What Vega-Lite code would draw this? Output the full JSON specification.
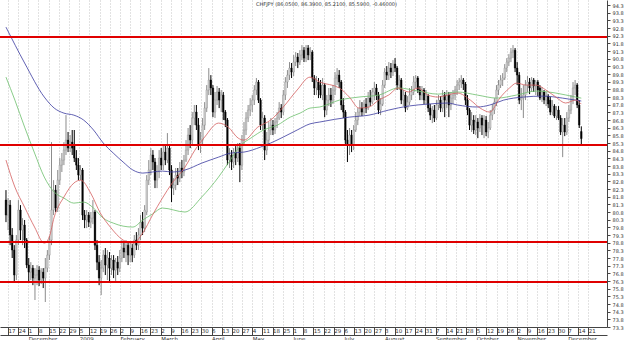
{
"$schema": "https://vega.github.io/schema/vega-lite/v6.json",
"width": 607, "height": 327,
"autosize": {"type": "none"},
"padding": {"left": 0, "top": 0, "right": 18, "bottom": 13},
"background": "white",
"title": {"text": "CHFJPY (86.0500, 86.3900, 85.2100, 85.5900, -0.46000)", "fontSize": 5, "fontWeight": "normal", "color": "#333", "font": "DejaVu Sans", "anchor": "start", "dx": 256, "offset": -7, "frame": "group"},
"config": {"view": {"stroke": null}, "axis": {"labelFont": "DejaVu Sans", "labelOverlap": false, "labelFlush": false, "labelFontSize": 5.5, "labelColor": "#333", "domainColor": "#444", "tickColor": "#444", "title": null}},
"datasets": {
"ohlc": [
{"d":0,"o":81.58,"h":82.23,"l":80.14,"c":80.60},
{"d":1,"o":80.60,"h":81.71,"l":79.62,"c":81.25},
{"d":2,"o":81.25,"h":81.58,"l":78.64,"c":79.30},
{"d":3,"o":79.30,"h":79.75,"l":77.80,"c":78.32},
{"d":4,"o":78.32,"h":78.64,"l":76.23,"c":76.69},
{"d":5,"o":76.69,"h":79.30,"l":76.36,"c":78.97},
{"d":6,"o":78.97,"h":81.58,"l":78.64,"c":80.93},
{"d":7,"o":80.93,"h":81.25,"l":78.97,"c":79.62},
{"d":8,"o":79.62,"h":80.40,"l":78.64,"c":79.95},
{"d":9,"o":79.95,"h":80.28,"l":78.45,"c":78.97},
{"d":10,"o":78.97,"h":79.10,"l":77.14,"c":77.34},
{"d":11,"o":77.34,"h":77.80,"l":76.23,"c":76.88},
{"d":12,"o":76.88,"h":77.53,"l":76.36,"c":77.14},
{"d":13,"o":77.14,"h":77.34,"l":76.03,"c":76.49},
{"d":14,"o":76.49,"h":77.14,"l":75.06,"c":76.69},
{"d":15,"o":76.69,"h":77.34,"l":76.03,"c":77.01},
{"d":16,"o":77.01,"h":77.27,"l":75.97,"c":76.36},
{"d":17,"o":76.36,"h":77.14,"l":76.10,"c":76.88},
{"d":18,"o":76.88,"h":77.14,"l":75.84,"c":76.49},
{"d":19,"o":76.49,"h":77.80,"l":74.93,"c":77.14},
{"d":20,"o":77.14,"h":78.32,"l":76.88,"c":77.99},
{"d":21,"o":77.99,"h":79.23,"l":77.67,"c":78.97},
{"d":22,"o":78.97,"h":85.36,"l":78.64,"c":80.93},
{"d":23,"o":80.93,"h":82.88,"l":80.60,"c":82.23},
{"d":24,"o":82.23,"h":82.56,"l":80.80,"c":81.06},
{"d":25,"o":81.06,"h":83.54,"l":80.80,"c":82.88},
{"d":26,"o":82.88,"h":84.32,"l":82.56,"c":83.86},
{"d":27,"o":83.86,"h":84.65,"l":83.41,"c":84.19},
{"d":28,"o":84.19,"h":85.36,"l":83.86,"c":84.84},
{"d":29,"o":84.84,"h":87.12,"l":84.52,"c":85.49},
{"d":30,"o":85.49,"h":86.02,"l":84.71,"c":84.97},
{"d":31,"o":84.97,"h":85.82,"l":84.71,"c":85.36},
{"d":32,"o":85.36,"h":86.15,"l":84.52,"c":84.97},
{"d":33,"o":85.17,"h":86.15,"l":84.06,"c":84.32},
{"d":34,"o":84.32,"h":84.84,"l":83.54,"c":83.86},
{"d":35,"o":83.86,"h":84.32,"l":82.88,"c":83.21},
{"d":36,"o":83.21,"h":83.86,"l":82.88,"c":83.54},
{"d":37,"o":83.54,"h":83.67,"l":80.28,"c":80.60},
{"d":38,"o":80.60,"h":80.93,"l":79.75,"c":80.28},
{"d":39,"o":80.28,"h":80.93,"l":79.75,"c":80.60},
{"d":40,"o":80.60,"h":80.80,"l":79.82,"c":80.14},
{"d":41,"o":80.14,"h":80.80,"l":79.75,"c":80.40},
{"d":42,"o":80.40,"h":81.58,"l":80.01,"c":80.80},
{"d":43,"o":80.80,"h":80.93,"l":78.32,"c":78.64},
{"d":44,"o":78.64,"h":78.97,"l":77.01,"c":77.53},
{"d":45,"o":77.53,"h":77.99,"l":76.03,"c":76.49},
{"d":46,"o":76.49,"h":77.67,"l":75.38,"c":77.14},
{"d":47,"o":77.14,"h":78.32,"l":76.88,"c":77.99},
{"d":48,"o":77.99,"h":78.45,"l":76.69,"c":77.34},
{"d":49,"o":77.34,"h":78.32,"l":76.36,"c":77.80},
{"d":50,"o":77.80,"h":78.19,"l":76.23,"c":77.14},
{"d":51,"o":77.14,"h":77.99,"l":76.69,"c":77.67},
{"d":52,"o":77.67,"h":77.99,"l":76.49,"c":77.01},
{"d":53,"o":77.01,"h":77.80,"l":76.23,"c":77.53},
{"d":54,"o":77.53,"h":77.93,"l":76.69,"c":77.14},
{"d":55,"o":77.14,"h":78.32,"l":76.88,"c":77.80},
{"d":56,"o":77.80,"h":78.97,"l":77.53,"c":78.45},
{"d":57,"o":78.45,"h":78.84,"l":77.80,"c":78.19},
{"d":58,"o":78.19,"h":78.97,"l":77.53,"c":78.64},
{"d":59,"o":78.64,"h":78.84,"l":77.34,"c":77.99},
{"d":60,"o":77.99,"h":78.84,"l":77.53,"c":78.45},
{"d":61,"o":78.45,"h":78.71,"l":77.53,"c":77.99},
{"d":62,"o":77.99,"h":79.30,"l":77.80,"c":78.97},
{"d":63,"o":78.97,"h":79.49,"l":78.32,"c":78.64},
{"d":64,"o":78.64,"h":79.75,"l":78.32,"c":79.30},
{"d":65,"o":79.30,"h":80.60,"l":78.97,"c":80.14},
{"d":66,"o":80.14,"h":80.80,"l":79.30,"c":79.75},
{"d":67,"o":79.75,"h":81.25,"l":79.49,"c":80.93},
{"d":68,"o":80.80,"h":83.21,"l":80.60,"c":82.88},
{"d":69,"o":82.88,"h":84.19,"l":82.56,"c":83.54},
{"d":70,"o":83.54,"h":84.97,"l":83.21,"c":84.52},
{"d":71,"o":84.52,"h":84.84,"l":83.54,"c":84.06},
{"d":72,"o":84.06,"h":84.32,"l":82.36,"c":82.88},
{"d":73,"o":82.88,"h":83.86,"l":82.36,"c":83.41},
{"d":74,"o":83.41,"h":84.84,"l":83.01,"c":84.32},
{"d":75,"o":84.32,"h":84.97,"l":83.54,"c":83.86},
{"d":76,"o":83.86,"h":85.17,"l":83.54,"c":84.71},
{"d":77,"o":84.71,"h":85.17,"l":83.86,"c":84.19},
{"d":78,"o":84.19,"h":85.95,"l":83.99,"c":84.97},
{"d":79,"o":84.97,"h":85.17,"l":83.21,"c":83.54},
{"d":80,"o":83.54,"h":83.86,"l":81.45,"c":82.36},
{"d":81,"o":82.36,"h":83.01,"l":81.91,"c":82.56},
{"d":82,"o":82.56,"h":83.67,"l":82.23,"c":83.21},
{"d":83,"o":83.21,"h":83.67,"l":82.56,"c":83.01},
{"d":84,"o":83.01,"h":84.06,"l":82.75,"c":83.67},
{"d":85,"o":83.67,"h":84.19,"l":83.01,"c":83.41},
{"d":86,"o":83.41,"h":84.52,"l":83.14,"c":84.19},
{"d":87,"o":84.19,"h":85.49,"l":84.06,"c":84.84},
{"d":88,"o":84.84,"h":86.28,"l":84.52,"c":85.82},
{"d":89,"o":85.82,"h":86.47,"l":84.97,"c":85.49},
{"d":90,"o":85.49,"h":87.32,"l":85.17,"c":86.93},
{"d":91,"o":86.93,"h":87.78,"l":86.47,"c":87.32},
{"d":92,"o":87.32,"h":87.78,"l":86.15,"c":86.47},
{"d":93,"o":86.47,"h":86.93,"l":84.84,"c":85.17},
{"d":94,"o":85.17,"h":86.02,"l":84.65,"c":85.49},
{"d":95,"o":85.49,"h":86.93,"l":85.17,"c":86.47},
{"d":96,"o":86.47,"h":87.97,"l":86.15,"c":87.58},
{"d":97,"o":87.58,"h":89.08,"l":87.32,"c":88.76},
{"d":98,"o":88.76,"h":90.19,"l":88.43,"c":89.41},
{"d":99,"o":89.41,"h":89.73,"l":88.43,"c":88.89},
{"d":100,"o":88.89,"h":89.08,"l":86.99,"c":87.32},
{"d":101,"o":87.32,"h":88.63,"l":86.93,"c":88.10},
{"d":102,"o":88.10,"h":89.02,"l":87.78,"c":88.63},
{"d":103,"o":88.63,"h":88.89,"l":87.58,"c":88.10},
{"d":104,"o":88.10,"h":88.76,"l":87.32,"c":88.43},
{"d":105,"o":88.43,"h":88.63,"l":86.80,"c":87.32},
{"d":106,"o":87.32,"h":87.45,"l":86.34,"c":86.80},
{"d":107,"o":86.80,"h":86.93,"l":83.86,"c":84.19},
{"d":108,"o":84.19,"h":84.97,"l":83.67,"c":84.52},
{"d":109,"o":84.52,"h":84.84,"l":83.54,"c":84.06},
{"d":110,"o":84.06,"h":84.97,"l":83.67,"c":84.71},
{"d":111,"o":84.71,"h":85.10,"l":83.86,"c":84.32},
{"d":112,"o":84.32,"h":85.30,"l":84.06,"c":84.97},
{"d":113,"o":84.97,"h":85.30,"l":82.75,"c":83.86},
{"d":114,"o":83.86,"h":85.82,"l":83.54,"c":85.49},
{"d":115,"o":85.49,"h":86.67,"l":85.17,"c":86.15},
{"d":116,"o":86.15,"h":87.32,"l":85.82,"c":86.93},
{"d":117,"o":86.93,"h":87.78,"l":86.67,"c":87.45},
{"d":118,"o":87.45,"h":88.23,"l":87.06,"c":87.78},
{"d":119,"o":87.78,"h":88.43,"l":87.32,"c":88.10},
{"d":120,"o":88.10,"h":89.08,"l":87.78,"c":88.76},
{"d":121,"o":88.76,"h":89.54,"l":88.43,"c":89.28},
{"d":122,"o":89.28,"h":89.41,"l":87.91,"c":88.10},
{"d":123,"o":88.10,"h":88.23,"l":86.15,"c":86.47},
{"d":124,"o":86.47,"h":87.32,"l":86.15,"c":86.93},
{"d":125,"o":86.93,"h":87.12,"l":84.19,"c":84.84},
{"d":126,"o":84.84,"h":86.02,"l":84.52,"c":85.49},
{"d":127,"o":85.49,"h":86.67,"l":85.17,"c":86.15},
{"d":128,"o":86.15,"h":86.93,"l":85.82,"c":86.47},
{"d":129,"o":86.47,"h":86.80,"l":85.82,"c":86.15},
{"d":130,"o":86.15,"h":86.93,"l":85.89,"c":86.67},
{"d":131,"o":86.67,"h":87.32,"l":86.28,"c":86.93},
{"d":132,"o":86.93,"h":87.97,"l":86.80,"c":87.58},
{"d":133,"o":87.58,"h":87.84,"l":86.93,"c":87.32},
{"d":134,"o":87.32,"h":88.76,"l":87.12,"c":88.43},
{"d":135,"o":88.43,"h":89.60,"l":88.10,"c":89.28},
{"d":136,"o":89.28,"h":90.06,"l":88.89,"c":89.73},
{"d":137,"o":89.73,"h":90.58,"l":89.41,"c":90.19},
{"d":138,"o":90.19,"h":90.52,"l":89.54,"c":89.93},
{"d":139,"o":89.93,"h":91.04,"l":89.67,"c":90.58},
{"d":140,"o":90.58,"h":91.23,"l":90.32,"c":90.91},
{"d":141,"o":90.91,"h":91.17,"l":90.19,"c":90.58},
{"d":142,"o":90.58,"h":91.36,"l":90.39,"c":91.04},
{"d":143,"o":91.04,"h":91.69,"l":90.71,"c":91.36},
{"d":144,"o":91.36,"h":91.56,"l":90.58,"c":90.84},
{"d":145,"o":90.84,"h":91.69,"l":90.58,"c":91.50},
{"d":146,"o":91.50,"h":91.69,"l":90.71,"c":91.04},
{"d":147,"o":91.04,"h":91.56,"l":90.71,"c":91.23},
{"d":148,"o":91.23,"h":91.36,"l":89.28,"c":89.54},
{"d":149,"o":89.54,"h":89.73,"l":88.43,"c":88.89},
{"d":150,"o":88.89,"h":89.67,"l":88.43,"c":89.28},
{"d":151,"o":89.28,"h":89.54,"l":88.23,"c":88.76},
{"d":152,"o":89.08,"h":89.41,"l":88.23,"c":88.43},
{"d":153,"o":88.43,"h":89.54,"l":88.10,"c":89.08},
{"d":154,"o":89.08,"h":89.21,"l":86.99,"c":87.45},
{"d":155,"o":87.45,"h":88.43,"l":87.12,"c":88.10},
{"d":156,"o":88.10,"h":88.89,"l":87.71,"c":88.43},
{"d":157,"o":88.43,"h":88.89,"l":87.65,"c":88.10},
{"d":158,"o":88.10,"h":89.08,"l":87.84,"c":88.76},
{"d":159,"o":88.76,"h":89.93,"l":88.43,"c":89.54},
{"d":160,"o":89.54,"h":90.19,"l":89.08,"c":89.73},
{"d":161,"o":89.73,"h":90.06,"l":88.89,"c":89.28},
{"d":162,"o":89.28,"h":89.41,"l":87.45,"c":87.78},
{"d":163,"o":87.78,"h":88.23,"l":86.93,"c":87.32},
{"d":164,"o":87.32,"h":87.45,"l":85.17,"c":85.49},
{"d":165,"o":85.49,"h":86.15,"l":84.06,"c":85.17},
{"d":166,"o":85.17,"h":86.28,"l":84.52,"c":85.82},
{"d":167,"o":85.82,"h":86.15,"l":84.71,"c":85.17},
{"d":168,"o":85.17,"h":86.47,"l":84.84,"c":86.15},
{"d":169,"o":86.15,"h":87.32,"l":86.02,"c":86.80},
{"d":170,"o":86.80,"h":87.58,"l":86.47,"c":87.32},
{"d":171,"o":87.32,"h":88.10,"l":87.06,"c":87.58},
{"d":172,"o":87.58,"h":87.97,"l":87.06,"c":87.32},
{"d":173,"o":87.32,"h":88.10,"l":87.12,"c":87.84},
{"d":174,"o":87.84,"h":88.23,"l":87.25,"c":87.58},
{"d":175,"o":87.58,"h":88.63,"l":87.45,"c":88.23},
{"d":176,"o":88.23,"h":88.76,"l":87.71,"c":87.97},
{"d":177,"o":87.97,"h":88.89,"l":87.84,"c":88.63},
{"d":178,"o":88.63,"h":89.28,"l":88.10,"c":88.89},
{"d":179,"o":88.89,"h":89.15,"l":88.10,"c":88.43},
{"d":180,"o":88.43,"h":88.63,"l":87.19,"c":87.45},
{"d":181,"o":87.45,"h":88.23,"l":87.12,"c":87.84},
{"d":182,"o":87.84,"h":89.41,"l":87.71,"c":89.08},
{"d":183,"o":89.08,"h":90.19,"l":88.89,"c":89.93},
{"d":184,"o":89.93,"h":90.32,"l":89.41,"c":89.73},
{"d":185,"o":89.73,"h":90.58,"l":89.41,"c":90.19},
{"d":186,"o":90.19,"h":90.52,"l":89.54,"c":89.93},
{"d":187,"o":89.93,"h":90.71,"l":89.67,"c":90.45},
{"d":188,"o":90.45,"h":90.84,"l":89.93,"c":90.19},
{"d":189,"o":90.19,"h":90.32,"l":88.76,"c":89.08},
{"d":190,"o":89.08,"h":89.73,"l":88.76,"c":89.41},
{"d":191,"o":89.41,"h":89.54,"l":87.84,"c":88.10},
{"d":192,"o":88.10,"h":88.76,"l":87.71,"c":88.43},
{"d":193,"o":88.43,"h":88.63,"l":87.32,"c":87.58},
{"d":194,"o":87.58,"h":88.36,"l":87.45,"c":87.97},
{"d":195,"o":87.97,"h":88.89,"l":87.78,"c":88.43},
{"d":196,"o":88.43,"h":89.02,"l":88.10,"c":88.63},
{"d":197,"o":88.63,"h":89.67,"l":88.43,"c":89.28},
{"d":198,"o":89.28,"h":89.73,"l":88.89,"c":89.54},
{"d":199,"o":89.54,"h":89.67,"l":88.56,"c":88.76},
{"d":200,"o":88.76,"h":89.02,"l":88.10,"c":88.43},
{"d":201,"o":88.43,"h":89.02,"l":88.10,"c":88.76},
{"d":202,"o":88.76,"h":88.89,"l":87.84,"c":88.10},
{"d":203,"o":88.10,"h":88.76,"l":87.84,"c":88.36},
{"d":204,"o":88.36,"h":88.49,"l":87.32,"c":87.58},
{"d":205,"o":87.58,"h":87.84,"l":86.80,"c":87.12},
{"d":206,"o":87.12,"h":87.71,"l":86.60,"c":87.45},
{"d":207,"o":87.45,"h":87.78,"l":86.67,"c":86.93},
{"d":208,"o":86.93,"h":88.10,"l":86.80,"c":87.78},
{"d":209,"o":87.78,"h":88.43,"l":87.45,"c":88.10},
{"d":210,"o":88.10,"h":88.36,"l":87.32,"c":87.58},
{"d":211,"o":87.58,"h":88.76,"l":87.32,"c":88.43},
{"d":212,"o":88.43,"h":88.63,"l":86.99,"c":88.10},
{"d":213,"o":88.10,"h":88.76,"l":87.58,"c":88.43},
{"d":214,"o":88.43,"h":88.63,"l":86.99,"c":87.78},
{"d":215,"o":87.78,"h":88.63,"l":87.45,"c":88.23},
{"d":216,"o":88.23,"h":88.76,"l":87.84,"c":88.43},
{"d":217,"o":88.43,"h":89.02,"l":88.10,"c":88.76},
{"d":218,"o":88.76,"h":89.41,"l":88.43,"c":89.08},
{"d":219,"o":89.08,"h":89.54,"l":88.76,"c":89.28},
{"d":220,"o":89.28,"h":89.73,"l":88.89,"c":89.41},
{"d":221,"o":89.41,"h":89.54,"l":88.76,"c":89.15},
{"d":222,"o":89.15,"h":89.28,"l":87.78,"c":88.10},
{"d":223,"o":88.10,"h":88.43,"l":87.12,"c":87.45},
{"d":224,"o":87.45,"h":87.58,"l":86.15,"c":86.47},
{"d":225,"o":86.47,"h":87.32,"l":86.02,"c":86.80},
{"d":226,"o":86.80,"h":87.12,"l":85.89,"c":86.15},
{"d":227,"o":86.15,"h":87.12,"l":85.82,"c":86.67},
{"d":228,"o":86.67,"h":86.93,"l":85.62,"c":86.28},
{"d":229,"o":86.28,"h":87.19,"l":86.02,"c":86.93},
{"d":230,"o":86.93,"h":87.12,"l":85.82,"c":86.47},
{"d":231,"o":86.47,"h":87.12,"l":85.62,"c":86.80},
{"d":232,"o":86.80,"h":87.06,"l":85.75,"c":86.02},
{"d":233,"o":86.02,"h":86.67,"l":85.62,"c":86.28},
{"d":234,"o":86.28,"h":87.45,"l":86.15,"c":87.12},
{"d":235,"o":87.12,"h":87.84,"l":86.80,"c":87.45},
{"d":236,"o":87.45,"h":88.23,"l":87.19,"c":87.97},
{"d":237,"o":87.97,"h":89.08,"l":87.71,"c":88.76},
{"d":238,"o":88.76,"h":89.41,"l":88.43,"c":89.08},
{"d":239,"o":89.08,"h":89.73,"l":88.89,"c":89.41},
{"d":240,"o":89.41,"h":89.86,"l":89.02,"c":89.54},
{"d":241,"o":89.54,"h":90.45,"l":89.41,"c":90.19},
{"d":242,"o":90.19,"h":90.84,"l":89.93,"c":90.58},
{"d":243,"o":90.58,"h":91.10,"l":90.32,"c":90.84},
{"d":244,"o":90.84,"h":91.50,"l":90.58,"c":91.23},
{"d":245,"o":91.23,"h":91.69,"l":90.84,"c":91.36},
{"d":246,"o":91.36,"h":91.50,"l":89.93,"c":90.19},
{"d":247,"o":90.19,"h":90.58,"l":89.08,"c":89.73},
{"d":248,"o":89.73,"h":89.93,"l":87.84,"c":88.10},
{"d":249,"o":88.10,"h":88.89,"l":87.45,"c":88.23},
{"d":250,"o":88.23,"h":89.08,"l":86.93,"c":88.43},
{"d":251,"o":88.43,"h":89.41,"l":88.10,"c":89.08},
{"d":252,"o":89.08,"h":89.67,"l":88.63,"c":89.28},
{"d":253,"o":89.28,"h":89.54,"l":88.49,"c":88.89},
{"d":254,"o":88.89,"h":89.60,"l":88.63,"c":89.41},
{"d":255,"o":89.41,"h":89.54,"l":88.63,"c":89.02},
{"d":256,"o":89.02,"h":89.41,"l":88.43,"c":89.28},
{"d":257,"o":89.28,"h":89.41,"l":88.36,"c":88.76},
{"d":258,"o":88.89,"h":89.08,"l":88.10,"c":88.23},
{"d":259,"o":88.23,"h":88.95,"l":87.97,"c":88.63},
{"d":260,"o":88.63,"h":88.76,"l":87.84,"c":88.10},
{"d":261,"o":88.10,"h":88.63,"l":87.71,"c":88.36},
{"d":262,"o":88.36,"h":88.49,"l":87.58,"c":87.84},
{"d":263,"o":88.10,"h":88.30,"l":87.12,"c":87.32},
{"d":264,"o":87.32,"h":88.10,"l":87.12,"c":87.71},
{"d":265,"o":87.71,"h":87.84,"l":86.93,"c":87.06},
{"d":266,"o":87.06,"h":87.71,"l":86.80,"c":87.45},
{"d":267,"o":87.45,"h":87.71,"l":86.80,"c":86.93},
{"d":268,"o":86.93,"h":87.12,"l":85.82,"c":86.02},
{"d":269,"o":86.02,"h":86.93,"l":84.38,"c":86.47},
{"d":270,"o":86.47,"h":86.93,"l":85.75,"c":86.02},
{"d":271,"o":86.02,"h":87.32,"l":85.82,"c":86.93},
{"d":272,"o":86.93,"h":87.78,"l":86.67,"c":87.45},
{"d":273,"o":87.45,"h":88.43,"l":87.19,"c":88.10},
{"d":274,"o":88.10,"h":89.28,"l":87.84,"c":88.89},
{"d":275,"o":88.89,"h":89.41,"l":88.43,"c":89.08},
{"d":276,"o":89.08,"h":89.21,"l":87.58,"c":87.78},
{"d":277,"o":87.78,"h":88.10,"l":86.28,"c":86.47},
{"d":278,"o":86.05,"h":86.39,"l":85.21,"c":85.59}
],
"ma": [
{"d":0,"s":"b","v":92.86},{"d":9,"s":"b","v":90.52},{"d":18.5,"s":"b","v":88.30},{"d":23.3,"s":"b","v":87.58},{"d":28,"s":"b","v":87.25},{"d":32.8,"s":"b","v":87.12},{"d":37.5,"s":"b","v":86.80},{"d":42.3,"s":"b","v":86.15},{"d":47,"s":"b","v":85.30},{"d":51.8,"s":"b","v":84.65},{"d":56.6,"s":"b","v":84.06},{"d":61.3,"s":"b","v":83.54},{"d":66.1,"s":"b","v":83.34},{"d":70.8,"s":"b","v":83.41},{"d":75.6,"s":"b","v":83.47},{"d":80.3,"s":"b","v":83.41},{"d":86.5,"s":"b","v":83.54},{"d":94.6,"s":"b","v":83.99},{"d":102.7,"s":"b","v":84.38},{"d":108.8,"s":"b","v":84.65},{"d":115,"s":"b","v":84.71},{"d":123.1,"s":"b","v":85.04},{"d":127.9,"s":"b","v":85.30},{"d":134,"s":"b","v":85.69},{"d":140.7,"s":"b","v":86.15},{"d":146.9,"s":"b","v":86.55},{"d":151.6,"s":"b","v":86.67},{"d":165.9,"s":"b","v":86.99},{"d":175.4,"s":"b","v":87.12},{"d":184.9,"s":"b","v":87.45},{"d":194.4,"s":"b","v":87.71},{"d":203.9,"s":"b","v":87.84},{"d":213.4,"s":"b","v":87.91},{"d":218.2,"s":"b","v":87.78},{"d":227.7,"s":"b","v":87.65},{"d":233.8,"s":"b","v":87.78},{"d":240.5,"s":"b","v":88.10},{"d":250,"s":"b","v":88.30},{"d":259.5,"s":"b","v":88.36},{"d":269,"s":"b","v":88.23},{"d":275.2,"s":"b","v":88.10},{"d":278,"s":"b","v":88.04},
{"d":0,"s":"g","v":89.60},{"d":4.3,"s":"g","v":88.10},{"d":9,"s":"g","v":86.34},{"d":13.8,"s":"g","v":84.65},{"d":18.5,"s":"g","v":83.08},{"d":23.3,"s":"g","v":82.10},{"d":28,"s":"g","v":81.71},{"d":32.8,"s":"g","v":81.38},{"d":37.5,"s":"g","v":81.45},{"d":42.3,"s":"g","v":81.06},{"d":47,"s":"g","v":80.40},{"d":51.8,"s":"g","v":80.08},{"d":56.6,"s":"g","v":79.88},{"d":61.3,"s":"g","v":79.82},{"d":66.1,"s":"g","v":80.28},{"d":70.8,"s":"g","v":80.67},{"d":75.6,"s":"g","v":81.06},{"d":86.5,"s":"g","v":80.80},{"d":94.6,"s":"g","v":81.78},{"d":102.7,"s":"g","v":83.08},{"d":107.4,"s":"g","v":83.99},{"d":113.6,"s":"g","v":85.17},{"d":118.3,"s":"g","v":85.62},{"d":124.5,"s":"g","v":86.15},{"d":131.2,"s":"g","v":86.47},{"d":137.4,"s":"g","v":86.99},{"d":142.1,"s":"g","v":87.25},{"d":146.9,"s":"g","v":87.58},{"d":151.6,"s":"g","v":87.65},{"d":161.1,"s":"g","v":88.10},{"d":170.6,"s":"g","v":88.30},{"d":180.1,"s":"g","v":88.43},{"d":189.6,"s":"g","v":88.89},{"d":199.1,"s":"g","v":88.69},{"d":208.7,"s":"g","v":88.49},{"d":218.2,"s":"g","v":88.63},{"d":227.7,"s":"g","v":88.43},{"d":237.2,"s":"g","v":88.23},{"d":246.7,"s":"g","v":88.43},{"d":256.2,"s":"g","v":88.69},{"d":265.7,"s":"g","v":88.56},{"d":275.2,"s":"g","v":88.30},{"d":278,"s":"g","v":88.23},
{"d":0,"s":"r","v":84.19},{"d":4.3,"s":"r","v":82.43},{"d":9,"s":"r","v":81.12},{"d":13.8,"s":"r","v":79.82},{"d":18.5,"s":"r","v":78.77},{"d":20.9,"s":"r","v":79.17},{"d":23.3,"s":"r","v":80.47},{"d":28,"s":"r","v":81.78},{"d":32.8,"s":"r","v":82.69},{"d":36.1,"s":"r","v":82.88},{"d":40.9,"s":"r","v":82.04},{"d":45.6,"s":"r","v":80.73},{"d":50.4,"s":"r","v":79.82},{"d":56.6,"s":"r","v":78.97},{"d":61.3,"s":"r","v":78.77},{"d":66.1,"s":"r","v":79.43},{"d":70.8,"s":"r","v":80.60},{"d":75.6,"s":"r","v":81.71},{"d":80.3,"s":"r","v":82.69},{"d":86.5,"s":"r","v":83.73},{"d":91.3,"s":"r","v":84.84},{"d":96,"s":"r","v":85.69},{"d":102.7,"s":"r","v":86.60},{"d":107.4,"s":"r","v":86.34},{"d":112.2,"s":"r","v":85.62},{"d":115,"s":"r","v":85.49},{"d":121.7,"s":"r","v":86.34},{"d":127.9,"s":"r","v":86.80},{"d":134,"s":"r","v":87.65},{"d":140.7,"s":"r","v":88.76},{"d":146.9,"s":"r","v":89.60},{"d":151.6,"s":"r","v":89.28},{"d":161.1,"s":"r","v":88.89},{"d":165.9,"s":"r","v":88.30},{"d":170.6,"s":"r","v":87.58},{"d":175.4,"s":"r","v":87.65},{"d":180.1,"s":"r","v":88.10},{"d":184.9,"s":"r","v":88.43},{"d":189.6,"s":"r","v":88.89},{"d":194.4,"s":"r","v":88.63},{"d":199.1,"s":"r","v":88.89},{"d":203.9,"s":"r","v":88.43},{"d":208.7,"s":"r","v":88.30},{"d":218.2,"s":"r","v":88.56},{"d":224.4,"s":"r","v":88.10},{"d":229.1,"s":"r","v":87.58},{"d":233.8,"s":"r","v":87.32},{"d":238.6,"s":"r","v":88.23},{"d":243.3,"s":"r","v":88.89},{"d":246.7,"s":"r","v":89.21},{"d":251.4,"s":"r","v":89.08},{"d":256.2,"s":"r","v":89.08},{"d":260.9,"s":"r","v":88.76},{"d":265.7,"s":"r","v":88.30},{"d":270.4,"s":"r","v":87.91},{"d":275.2,"s":"r","v":88.10},{"d":278,"s":"r","v":87.84}
],
"levels": [{"level":92.21},{"level":85.17},{"level":78.84},{"level":76.23}]
},
"resolve": {"axis": {"x": "independent"}},
"layer": [
{
"data": {"name": "ohlc"},
"mark": {"type": "rule", "strokeWidth": 1},
"encoding": {
"x": {"field": "d", "type": "quantitative", "scale": {"domain": [-0.475, 288.0], "zero": false, "nice": false},
"axis": {"orient": "bottom", "title": null, "tickCount": 200, "values": [0.95,5.87,10.79,15.71,20.63,25.55,30.46,35.38,40.30,45.22,50.14,55.06,59.98,64.90,69.82,74.74,79.65,84.57,89.49,94.41,99.33,104.25,109.17,114.09,119.01,123.93,128.84,133.76,138.68,143.60,148.52,153.44,158.36,163.28,168.20,173.12,178.03,182.95,187.87,192.79,197.71,202.63,207.55,212.47,217.39,222.31,227.22,232.14,237.06,241.98,246.90,251.82,256.74,261.66,266.58,271.50,276.41,281.33],
"labelExpr": "['17','24','1','8','15','22','29','5','12','19','26','2','9','16','23','2','9','16','23','30','6','13','20','27','4','11','18','25','1','8','15','22','29','6','13','20','27','3','10','17','24','31','7','14','21','28','5','12','19','26','2','9','16','23','30','7','14','21'][round((datum.value-0.95)/4.919)]",
"grid": true, "gridColor": "#c4c4c4", "gridDash": [1, 2], "gridWidth": 1,
"tickSize": 8, "domainWidth": 1,
"labelAlign": "left", "labelBaseline": "top", "labelPadding": -7, "labelDx": 1.5, "labelFlush": false, "labelOverlap": false}},
"y": {"field": "l", "type": "quantitative", "title": null, "scale": {"domain": [73.3, 94.63], "zero": false, "nice": false},
"axis": {"orient": "right", "title": null, "tickCount": 200, "values": [73.3,73.8,74.3,74.8,75.3,75.8,76.3,76.8,77.3,77.8,78.3,78.8,79.3,79.8,80.3,80.8,81.3,81.8,82.3,82.8,83.3,83.8,84.3,84.8,85.3,85.8,86.3,86.8,87.3,87.8,88.3,88.8,89.3,89.8,90.3,90.8,91.3,91.8,92.3,92.8,93.3,93.8,94.3], "format": ".1f", "grid": false, "tickSize": 3, "labelPadding": 2, "labelFontSize": 5, "labelOverlap": false, "labelFlush": false, "labelBound": false}},
"y2": {"field": "h"},
"color": {"condition": {"test": "datum.c < datum.o", "value": "#000000"}, "value": "#8c8c8c"}
}
},
{
"data": {"name": "ohlc"},
"mark": {"type": "bar", "size": 1.6},
"encoding": {
"x": {"field": "d", "type": "quantitative",
"axis": {"orient": "bottom", "offset": 8, "title": null, "tickCount": 200, "values": [10.79,35.38,55.06,74.74,99.33,119.01,138.68,163.28,182.95,207.55,227.22,246.90,271.50],
"labelExpr": "['December','2009','February','March','April','May','June','July','August','September','October','November','December'][indexof([10.79,35.38,55.06,74.74,99.33,119.01,138.68,163.28,182.95,207.55,227.22,246.9,271.5], datum.value)]",
"grid": false, "ticks": false, "domain": true, "labelAlign": "left", "labelBaseline": "top", "labelPadding": 1, "labelDx": 1, "labelFlush": false, "labelOverlap": false}},
"y": {"field": "o", "type": "quantitative", "title": null},
"y2": {"field": "c"},
"color": {"condition": {"test": "datum.c < datum.o", "value": "#000000"}, "value": "#d0d0d0"},
"stroke": {"condition": {"test": "datum.c < datum.o", "value": "#000000"}, "value": "#8c8c8c"},
"strokeWidth": {"value": 0.4}
}
},
{
"data": {"name": "ma"},
"mark": {"type": "line", "strokeWidth": 0.8, "interpolate": "monotone"},
"encoding": {
"x": {"field": "d", "type": "quantitative", "axis": null},
"y": {"field": "v", "type": "quantitative", "title": null},
"color": {"field": "s", "type": "nominal", "legend": null, "scale": {"domain": ["r", "g", "b"], "range": ["#d46060", "#6cbf6c", "#3a3aa0"]}}
}
},
{
"data": {"name": "levels"},
"mark": {"type": "rule", "color": "#e00000", "strokeWidth": 2},
"encoding": {
"y": {"field": "level", "type": "quantitative", "title": null}
}
}
]
}
